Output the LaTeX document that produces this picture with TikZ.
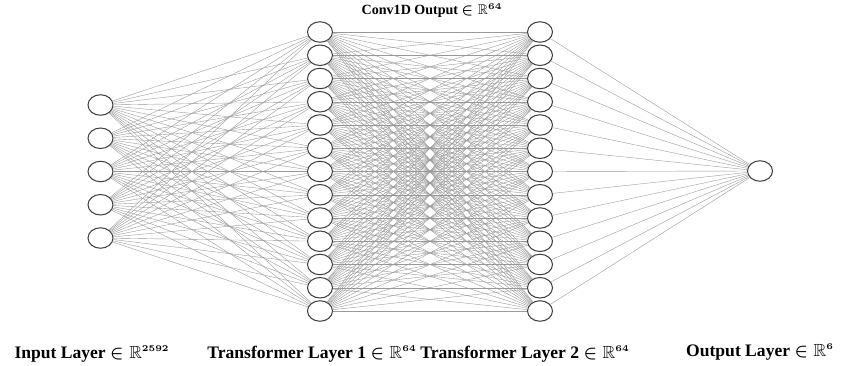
\documentclass[tikz,border=0pt]{standalone}
\usepackage{amsmath,amssymb}
\usepackage{fontspec}
\setmainfont{Liberation Serif}
\usetikzlibrary{shapes.geometric}

\newcommand{\realsp}[1]{\mathbb{R}^{\scriptscriptstyle #1}}

\begin{document}
\begin{tikzpicture}[x=0.02cm,y=-0.02cm,
  neuron/.style={draw=black!75,line width=0.6pt,ellipse,fill=white,
    minimum width=0.5cm,minimum height=0.41cm,inner sep=0pt},
  link/.style={draw=gray!80,line width=0.22pt},
  layerlabel/.style={anchor=base,font=\fontsize{10}{12}\selectfont\bfseries\boldmath}]
  \useasboundingbox (0,0) rectangle (841,365);
  % input layer
  \foreach \i in {1,...,5}
    \node[neuron] (I\i) at (100.5,{105+33.25*(\i-1)}) {};
  % transformer layers
  \foreach \i in {1,...,13} {
    \node[neuron] (A\i) at (320,{32+23.25*(\i-1)}) {};
    \node[neuron] (B\i) at (540,{32+23.25*(\i-1)}) {};
  }
  % output layer
  \node[neuron] (O) at (760,171) {};
  % connections
  \foreach \i in {1,...,5}
    \foreach \j in {1,...,13}
      \draw[link] (I\i) -- (A\j);
  \foreach \i in {1,...,13}
    \foreach \j in {1,...,13}
      \draw[link] (A\i) -- (B\j);
  \foreach \i in {1,...,13}
    \draw[link] (B\i) -- (O);
  % labels
  \node[layerlabel] (inlab) at (92,358) {Input Layer $\in\realsp{2592}$};
  \node[layerlabel] (t1lab) at (312,358) {Transformer Layer 1 $\in\realsp{64}$};
  \node[layerlabel] (t2lab) at (525,358) {Transformer Layer 2 $\in\realsp{64}$};
  \node[layerlabel] (outlab) at (760,356) {Output Layer $\in\realsp{6}$};
  \node[anchor=base,font=\fontsize{8}{9}\selectfont\bfseries\boldmath] (convlab) at (432,14)
    {Conv1D Output $\in\realsp{64}$};
\end{tikzpicture}
\end{document}
